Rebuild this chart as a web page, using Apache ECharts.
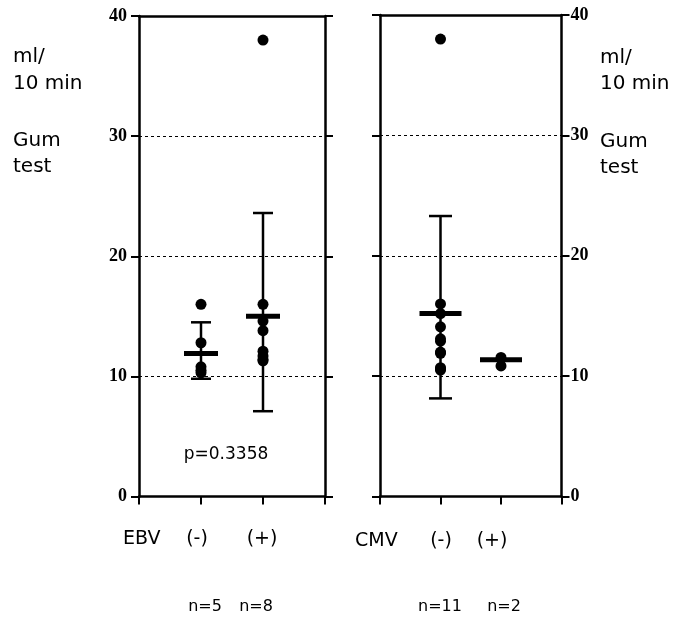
<!DOCTYPE html>
<html>
<head>
<meta charset="utf-8">
<script src="https://cdn.jsdelivr.net/npm/echarts@6/dist/echarts.min.js"></script>
<style>
  html, body { margin: 0; background: #fff; }
  #main { width: 682px; height: 618px; }
</style>
</head>
<body>
<div id="main"></div>
<script>
// x positions of the two groups on each panel (axis runs 0..3)
const groupX = [1, 2];
const yTicks = [0, 10, 20, 30, 40];

// EBV panel
const ebvNeg = [16, 12.8, 10.8, 10.5, 10.3];
const ebvPos = [38, 16, 14.6, 13.8, 12.1, 11.7, 11.4, 11.3];
const ebvMean = [11.9, 15.0];
const ebvLow = [9.8, 7.1];
const ebvHigh = [14.5, 23.6];

// CMV panel
const cmvNeg = [38, 16, 15.2, 14.1, 13.1, 12.9, 12.0, 11.9, 10.7, 10.5, 10.6];
const cmvPos = [11.55, 10.85];
const cmvMean = [15.2, 11.35];
const cmvLow = [8.15];
const cmvHigh = [23.3];

const labelFont = 'DejaVu Sans';
const black = '#000';

function errorBars(capW) {
  return function (params, api) {
    const x = api.value(0);
    const top = api.coord([x, api.value(2)]);
    const bot = api.coord([x, api.value(1)]);
    const st = { stroke: black, lineWidth: 2.5 };
    return {
      type: 'group',
      children: [
        { type: 'line', shape: { x1: top[0], y1: top[1], x2: bot[0], y2: bot[1] }, style: st },
        { type: 'line', shape: { x1: top[0] - capW / 2, y1: top[1], x2: top[0] + capW / 2, y2: top[1] }, style: st },
        { type: 'line', shape: { x1: bot[0] - capW / 2, y1: bot[1], x2: bot[0] + capW / 2, y2: bot[1] }, style: st }
      ]
    };
  };
}

function xAxes(grid) {
  return [
    {
      gridIndex: grid, type: 'value', position: 'bottom', min: 0, max: 3, interval: 1,
      axisLine: { show: true, onZero: false, lineStyle: { color: black, width: 2.5 } },
      axisTick: { show: true, length: 8, lineStyle: { color: black, width: 2 } },
      axisLabel: { show: false }, splitLine: { show: false }
    },
    {
      gridIndex: grid, type: 'value', position: 'top', min: 0, max: 3, interval: 1,
      axisLine: { show: true, onZero: false, lineStyle: { color: black, width: 2.5 } },
      axisTick: { show: false }, axisLabel: { show: false }, splitLine: { show: false }
    }
  ];
}

function yAxis(grid, pos, labels, split, margin) {
  return {
    gridIndex: grid, type: 'value', position: pos, min: yTicks[0], max: yTicks[yTicks.length - 1], interval: 10,
    axisLine: { show: true, onZero: false, lineStyle: { color: black, width: 2.5 } },
    axisTick: { show: true, length: 8, lineStyle: { color: black, width: 2 } },
    axisLabel: {
      show: labels, margin: margin || 10, color: black,
      fontFamily: 'Liberation Serif', fontWeight: 'bold', fontSize: 18
    },
    splitLine: { show: split, lineStyle: { color: black, width: 1, type: [3, 3] } }
  };
}

function dots(xi, yi, gx, vals) {
  return {
    type: 'scatter', xAxisIndex: xi, yAxisIndex: yi, symbol: 'circle', symbolSize: 11,
    itemStyle: { color: black, opacity: 1 }, silent: true, z: 3,
    data: vals.map(v => [gx, v])
  };
}

function means(xi, yi, vals, w) {
  return {
    type: 'scatter', xAxisIndex: xi, yAxisIndex: yi, symbol: 'rect', symbolSize: [w, 5],
    itemStyle: { color: black, opacity: 1 }, silent: true, z: 4,
    data: vals.map((v, i) => [groupX[i], v])
  };
}

function errs(xi, yi, lo, hi, capW) {
  return {
    type: 'custom', xAxisIndex: xi, yAxisIndex: yi, silent: true, z: 2,
    renderItem: errorBars(capW),
    data: lo.map((v, i) => [groupX[i], v, hi[i]])
  };
}

function txt(x, y, text, size, align) {
  return {
    type: 'text', x: x, y: y, silent: true,
    style: { text: text, fill: black, fontFamily: labelFont, fontSize: size,
      textAlign: align || 'left', textVerticalAlign: 'middle' }
  };
}

const chart = echarts.init(document.getElementById('main'), null, { renderer: 'canvas' });
chart.setOption({
  animation: false,
  backgroundColor: '#fff',
  grid: [
    { left: 139, right: 357, top: 16, bottom: 121.5 },
    { left: 380, right: 120.5, top: 15, bottom: 121.5 }
  ],
  xAxis: [...xAxes(0), ...xAxes(1)],
  yAxis: [
    yAxis(0, 'left', true, true, 12),
    yAxis(0, 'right', false, false),
    yAxis(1, 'left', false, true),
    yAxis(1, 'right', true, false, 9)
  ],
  series: [
    errs(0, 0, ebvLow, ebvHigh, 20),
    dots(0, 0, groupX[0], ebvNeg),
    dots(0, 0, groupX[1], ebvPos),
    means(0, 0, ebvMean, 34),
    errs(2, 2, cmvLow, cmvHigh, 23),
    dots(2, 2, groupX[0], cmvNeg),
    dots(2, 2, groupX[1], cmvPos),
    means(2, 2, cmvMean, 42)
  ],
  graphic: [
    txt(13, 57, 'ml/', 20),
    txt(13, 84, '10 min', 20),
    txt(13, 141, 'Gum', 20),
    txt(13, 167, 'test', 20),
    txt(600, 58, 'ml/', 20),
    txt(600, 84, '10 min', 20),
    txt(600, 142, 'Gum', 20),
    txt(600, 168, 'test', 20),
    txt(226, 455, 'p=0.3358', 17, 'center'),
    txt(123, 539, 'EBV', 19),
    txt(197, 539, '(-)', 19, 'center'),
    txt(262, 539, '(+)', 19, 'center'),
    txt(355, 541, 'CMV', 19),
    txt(441, 541, '(-)', 19, 'center'),
    txt(492, 541, '(+)', 19, 'center'),
    txt(205, 607, 'n=5', 16, 'center'),
    txt(256, 607, 'n=8', 16, 'center'),
    txt(440, 607, 'n=11', 16, 'center'),
    txt(504, 607, 'n=2', 16, 'center')
  ]
});
</script>
</body>
</html>
